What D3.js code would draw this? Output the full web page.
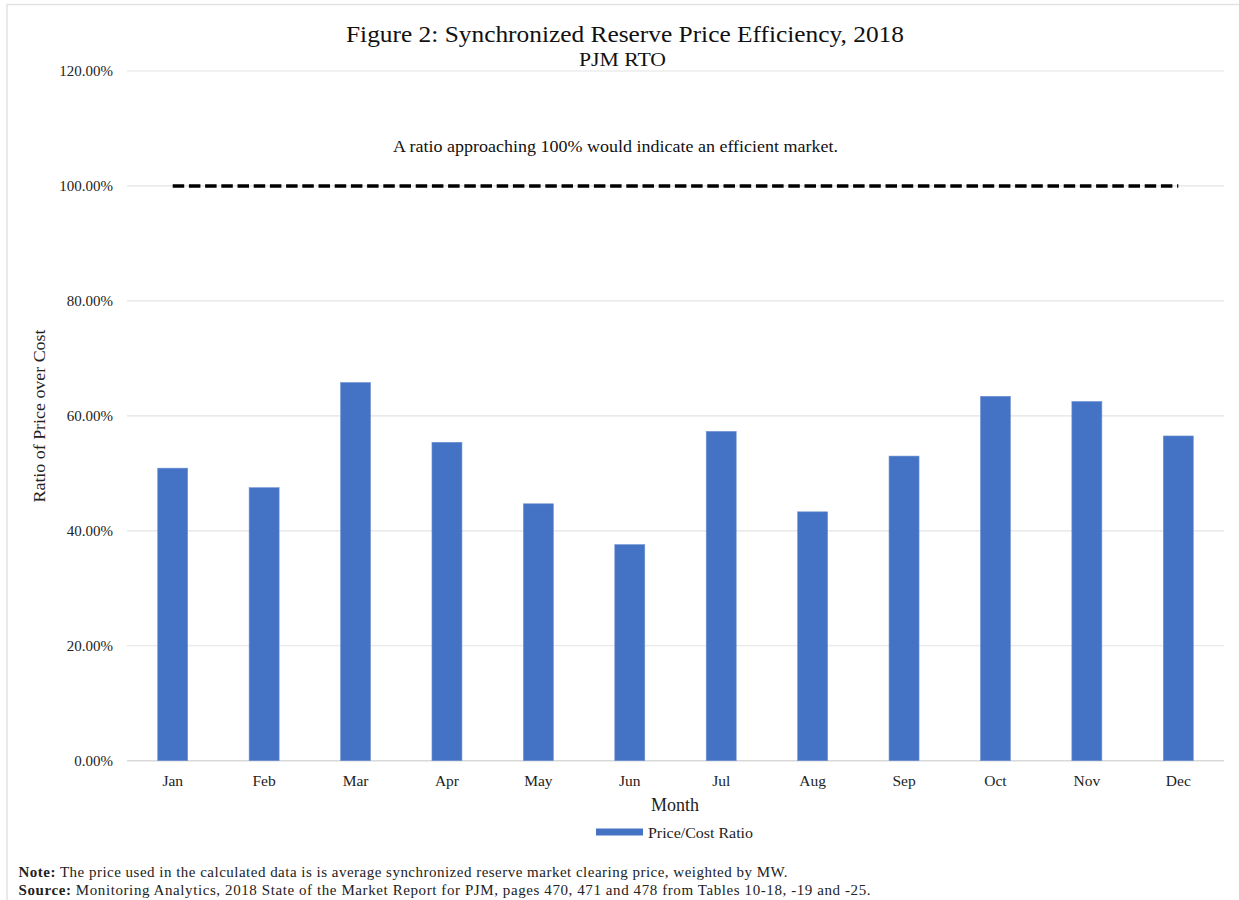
<!DOCTYPE html>
<html>
<head>
<meta charset="utf-8">
<script src="https://cdn.jsdelivr.net/npm/d3@7"></script>
<style>
  body { margin: 0; background: #fff; }
  svg { font-family: "Liberation Serif", "Times New Roman", serif; }
</style>
</head>
<body>
<svg width="1239" height="900"></svg>
<script>
// data
const months = ["Jan", "Feb", "Mar", "Apr", "May", "Jun", "Jul", "Aug", "Sep", "Oct", "Nov", "Dec"];
const ratios = [50.9, 47.5, 65.8, 55.4, 44.7, 37.6, 57.3, 43.3, 53.0, 63.4, 62.5, 56.5];
const yTicks = [0, 20, 40, 60, 80, 100, 120];
const efficientLevel = 100;

let svg = d3.select("svg");

// chart frame (light border on top / left)
svg.append("line").attr("x1", 7).attr("x2", 1239).attr("y1", 4.5).attr("y2", 4.5)
  .attr("stroke", "#e2e2e2").attr("stroke-width", 1.5);
svg.append("line").attr("x1", 7).attr("x2", 7).attr("y1", 4).attr("y2", 900)
  .attr("stroke", "#e2e2e2").attr("stroke-width", 1.5);

let x = d3.scaleBand().domain(months).range([127, 1224]).paddingInner(0.672).paddingOuter(0.336);
let y = d3.scaleLinear().domain([0, 120]).range([760.7, 71]);

// gridlines
svg.append("g")
  .selectAll("line")
  .data(yTicks)
  .join("line")
  .attr("x1", 127).attr("x2", 1224)
  .attr("y1", d => y(d)).attr("y2", d => y(d))
  .attr("stroke", d => d === 0 ? "#d9d9d9" : "#e3e3e3")
  .attr("stroke-width", d => d === 0 ? 1.5 : 1.2);

// y axis labels
let yAxis = d3.axisLeft(y).tickValues(yTicks).tickSize(0).tickPadding(0)
  .tickFormat(d => d3.format(".2f")(d) + "%");
svg.append("g").attr("transform", "translate(113,0)").call(yAxis)
  .call(g => g.select(".domain").remove())
  .selectAll("text")
  .attr("font-family", "Liberation Serif").attr("font-size", 15).attr("fill", "#222")
  .attr("dy", "0.33em");

// bars
svg.append("g")
  .selectAll("rect")
  .data(ratios)
  .join("rect")
  .attr("x", (d, i) => x(months[i]))
  .attr("width", x.bandwidth())
  .attr("y", d => y(d))
  .attr("height", d => y(0) - y(d))
  .attr("fill", "#4472c4")
  .attr("stroke", "#6f93d3")
  .attr("stroke-width", 0.6);

// x axis labels
let xAxis = d3.axisBottom(x).tickSize(0).tickPadding(0);
svg.append("g").attr("transform", "translate(0,774)").call(xAxis)
  .call(g => g.select(".domain").remove())
  .selectAll("text")
  .attr("font-family", "Liberation Serif").attr("font-size", 15.5).attr("fill", "#222")
  .attr("dy", "0.75em");

// 100% reference line
svg.append("line")
  .attr("x1", x("Jan") + x.bandwidth() / 2)
  .attr("x2", x("Dec") + x.bandwidth() / 2)
  .attr("y1", y(efficientLevel)).attr("y2", y(efficientLevel))
  .attr("stroke", "#000").attr("stroke-width", 3.6)
  .attr("stroke-dasharray", "11.5,4.7");

svg.append("text").attr("x", 393).attr("y", 152)
  .attr("font-size", 16.5).attr("fill", "#111")
  .attr("textLength", 445).attr("lengthAdjust", "spacingAndGlyphs")
  .text("A ratio approaching 100% would indicate an efficient market.");

// titles
svg.append("text").attr("x", 346).attr("y", 41.5)
  .attr("font-size", 23).attr("fill", "#111")
  .attr("textLength", 558).attr("lengthAdjust", "spacingAndGlyphs")
  .text("Figure 2: Synchronized Reserve Price Efficiency, 2018");
svg.append("text").attr("x", 579).attr("y", 65.5)
  .attr("font-size", 18).attr("fill", "#111")
  .attr("textLength", 87).attr("lengthAdjust", "spacingAndGlyphs")
  .text("PJM RTO");

// axis titles
svg.append("text").attr("transform", "translate(45,416) rotate(-90)")
  .attr("x", -86.5).attr("font-size", 16.5).attr("fill", "#222")
  .attr("textLength", 173).attr("lengthAdjust", "spacingAndGlyphs")
  .text("Ratio of Price over Cost");
svg.append("text").attr("x", 675).attr("y", 811).attr("text-anchor", "middle")
  .attr("font-size", 18).attr("fill", "#222")
  .text("Month");

// legend
svg.append("rect").attr("x", 596).attr("y", 828.5).attr("width", 47).attr("height", 7)
  .attr("fill", "#4472c4");
svg.append("text").attr("x", 648).attr("y", 837.5).attr("font-size", 15.5).attr("fill", "#222")
  .attr("textLength", 105).attr("lengthAdjust", "spacingAndGlyphs")
  .text("Price/Cost Ratio");

// footnotes
let note = svg.append("text").attr("x", 18.5).attr("y", 877).attr("font-size", 15).attr("fill", "#222")
  .attr("textLength", 769).attr("lengthAdjust", "spacing");
note.append("tspan").attr("font-weight", "bold").text("Note:");
note.append("tspan").text(" The price used in the calculated data is is average synchronized reserve market clearing price, weighted by MW.");
let source = svg.append("text").attr("x", 18.5).attr("y", 895).attr("font-size", 15).attr("fill", "#222")
  .attr("textLength", 852).attr("lengthAdjust", "spacing");
source.append("tspan").attr("font-weight", "bold").text("Source:");
source.append("tspan").text(" Monitoring Analytics, 2018 State of the Market Report for PJM, pages 470, 471 and 478 from Tables 10-18, -19 and -25.");
</script>
</body>
</html>
